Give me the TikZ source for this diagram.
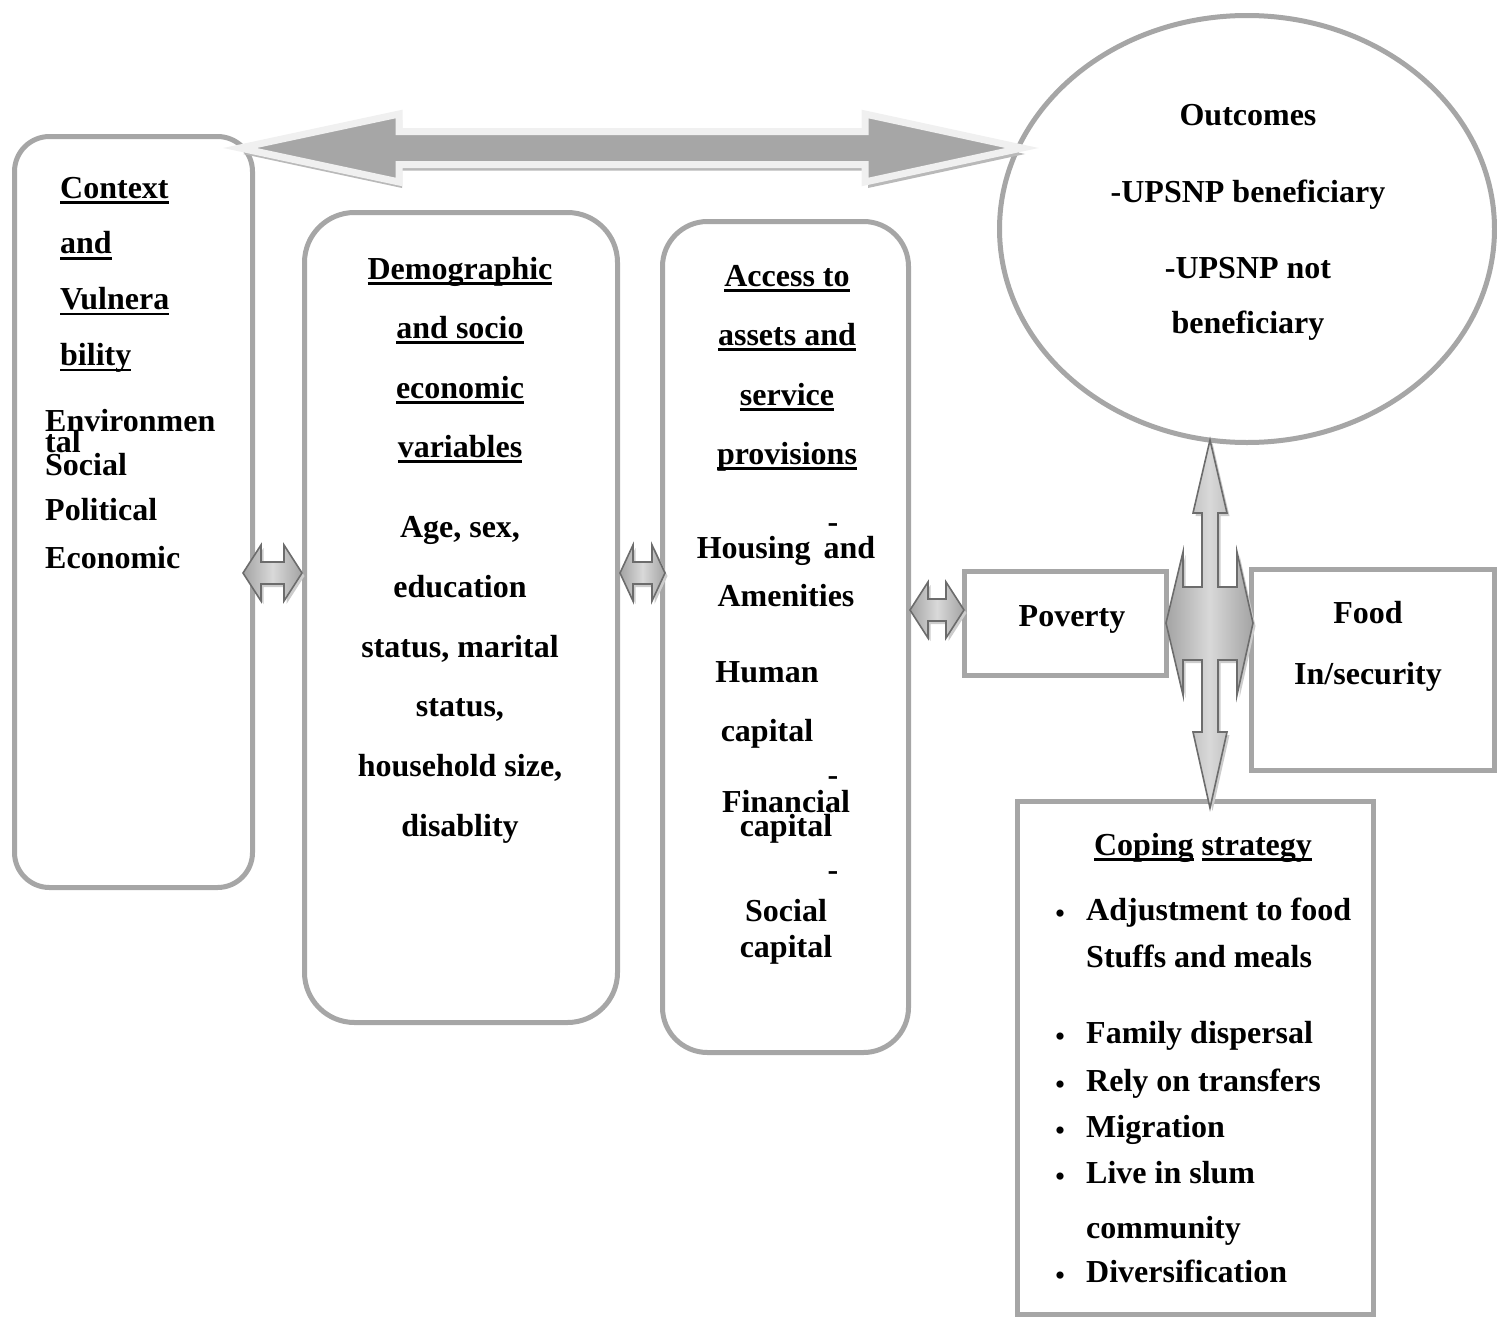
\documentclass[tikz,border=0pt]{standalone}
\usepackage{fontspec}
\setmainfont{Liberation Serif}
\usetikzlibrary{shapes.geometric}
\definecolor{boxgray}{RGB}{166,166,166}
\definecolor{arrowedge}{RGB}{108,108,108}
\definecolor{bigfill}{RGB}{166,166,166}
\definecolor{bigedge}{RGB}{240,240,240}
\newcommand{\undl}[1]{\setbox0\hbox{#1}\rlap{\rule[-6pt]{\wd0}{2.6pt}}\box0\relax}

\begin{document}
\begin{tikzpicture}[x=1pt,y=-1pt,
  rbox/.style={draw=boxgray,line width=5pt,fill=white,inner sep=0pt},
  txt/.style={font=\bfseries\fontsize{32}{38}\selectfont,inner sep=0pt,anchor=base},
  ltxt/.style={txt,anchor=base west},
  dot/.style={font=\fontsize{30}{32}\selectfont,inner sep=0pt,anchor=base},
  blk/.style={draw=arrowedge,line width=1.6pt,line join=miter,
              left color=gray!72,right color=gray!72,middle color=gray!30,
              preaction={fill=gray!40,transform canvas={shift={(2.5pt,-3pt)}}}},
  big/.style={draw=bigedge,line width=7pt,fill=bigfill,line join=miter,
              preaction={fill=gray!55,transform canvas={shift={(3pt,-6pt)}}}}
]
\useasboundingbox (0,0) rectangle (1497,1317);

% boxes
\node[rbox,rounded corners=35pt,minimum width=238pt,minimum height=751pt] (ctx) at (133.5,512) {};
\node[rbox,rounded corners=50pt,minimum width=313pt,minimum height=810pt] (demo) at (461,617.5) {};
\node[rbox,rounded corners=45pt,minimum width=246pt,minimum height=831pt] (acc) at (785.5,637) {};
\node[rbox,ellipse,minimum width=495pt,minimum height=427pt] (outc) at (1247,229) {};
\node[rbox,minimum width=202pt,minimum height=104pt] (pov) at (1065.5,623.5) {};
\node[rbox,minimum width=243pt,minimum height=201pt] (food) at (1373,670) {};
\node[rbox,minimum width=356pt,minimum height=513pt] (cope) at (1195.5,1058) {};

% big double arrow on top
\draw[big] (240,148) -- (399,114) -- (399,131.5) -- (865,131.5) -- (865,114)
  -- (1022,148) -- (865,182) -- (865,164.5) -- (399,164.5) -- (399,182) -- cycle;

% small double arrows
\foreach \xa/\xb/\yc/\hl in {243/302/573/18, 620/665/573/13, 910/964/610/18}
  \draw[blk] (\xa,\yc) -- ({\xa+\hl},{\yc-28}) -- ({\xa+\hl},{\yc-11}) -- ({\xb-\hl},{\yc-11})
    -- ({\xb-\hl},{\yc-28}) -- (\xb,\yc) -- ({\xb-\hl},{\yc+28}) -- ({\xb-\hl},{\yc+11})
    -- ({\xa+\hl},{\yc+11}) -- ({\xa+\hl},{\yc+28}) -- cycle;

% cross arrow
\draw[blk] (1210,440) -- (1227,513) -- (1218,513) -- (1218,587) -- (1237,587) -- (1237,552)
  -- (1253,623) -- (1237,695) -- (1237,660) -- (1218,660) -- (1218,732) -- (1227,732)
  -- (1210,808) -- (1193,732) -- (1202,732) -- (1202,660) -- (1183,660) -- (1183,695)
  -- (1166,623) -- (1183,552) -- (1183,587) -- (1202,587) -- (1202,513) -- (1193,513) -- cycle;

% context and vulnerability
\foreach \ln [count=\i] in {Context,and,Vulnera,bility}
  \node[ltxt] (ctxh\i) at (60,{198+55.7*(\i-1)}) {\undl{\ln}};
\foreach \ln/\yb [count=\i] in {Environmen/431,tal/452,Social/475,Political/520,Economic/568}
  \node[ltxt] (ctxb\i) at (45,\yb) {\ln};

% demographic
\foreach \ln/\yb [count=\i] in {Demographic/279,and socio/338,economic/398,variables/457}
  \node[txt] (demoh\i) at (460,\yb) {\undl{\ln}};
\foreach \ln/\yb [count=\i] in {{Age, sex,}/537,education/597,{status, marital}/657,
    {status,}/716,{household size,}/776,disablity/836}
  \node[txt] (demob\i) at (460,\yb) {\ln};

% access to assets
\foreach \ln/\yb [count=\i] in {Access to/286,assets and/345,service/405,provisions/464}
  \node[txt] (acch\i) at (787,\yb) {\undl{\ln}};
\node[txt] (dash1) at (833,532) {-};
\node[txt] (hous) at (786,558) {Housing\hspace{5pt} and};
\node[txt] (amen) at (786,606) {Amenities};
\node[txt] (hum) at (767,682) {Human};
\node[txt] (humc) at (767,741) {capital};
\node[txt] (dash2) at (833,785) {-};
\node[txt] (fin) at (786,812) {Financial};
\node[txt] (finc) at (786,836) {capital};
\node[txt] (dash3) at (833,880) {-};
\node[txt] (soc) at (786,921) {Social};
\node[txt] (socc) at (786,957) {capital};

% outcomes
\foreach \ln/\yb [count=\i] in {Outcomes/125,-UPSNP beneficiary/202,-UPSNP not/278,beneficiary/333}
  \node[txt] (outt\i) at (1248,\yb) {\ln};

% poverty and food
\node[txt] (povt) at (1072,626) {Poverty};
\node[txt] (foodt) at (1368,623) {Food};
\node[txt] (foodt2) at (1368,684) {In/security};

% coping strategy
\node[txt] (copet) at (1203,855) {\undl{Coping} \undl{strategy}};
\foreach \ln/\yb [count=\i] in {Adjustment to food/920,Family dispersal/1043,Rely on transfers/1091,
    Migration/1137,Live in slum/1183,Diversification/1282}
{
  \node[dot] (bul\i) at (1060,{\yb+3}) {•};
  \node[ltxt] (copeb\i) at (1086,\yb) {\ln};
}
\node[ltxt] (stuff) at (1086,967) {Stuffs and meals};
\node[ltxt] (comm) at (1086,1238) {community};
\end{tikzpicture}
\end{document}
